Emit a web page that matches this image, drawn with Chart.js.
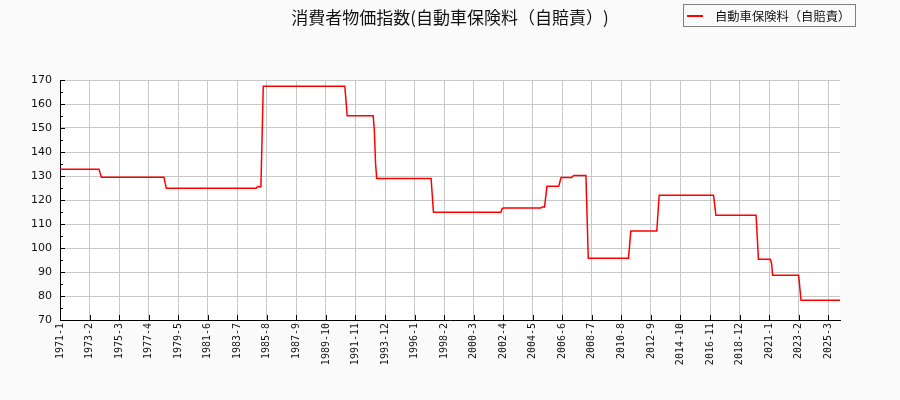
<!DOCTYPE html>
<html>
<head>
<meta charset="utf-8">
<script src="https://cdn.jsdelivr.net/npm/chart.js@4/dist/chart.umd.min.js"></script>
<style>
  html, body { margin: 0; padding: 0; background: #fafafa; }
  #wrap { width: 900px; height: 400px; }
</style>
</head>
<body>
<div id="wrap"><canvas id="chart" width="900" height="400"></canvas></div>
<script>
const title = '消費者物価指数(自動車保険料（自賠責）)';
const seriesName = '自動車保険料（自賠責）';

const firstMonth = '1971-1';
const lastMonth = '2026-1';

// month where each level starts, and the level
const changeMonths = [
  '1971-1', '1973-11', '1973-12', '1978-6', '1978-7', '1984-12', '1985-4', '1985-5',
  '1991-3', '1991-4', '1993-3', '1993-4', '1993-5', '1997-4', '1997-5', '2002-3',
  '2002-4', '2005-1', '2005-4', '2005-5', '2006-4', '2006-5', '2007-3', '2007-4',
  '2008-3', '2008-4', '2011-3', '2011-4', '2013-3', '2013-4', '2017-3', '2017-4',
  '2020-3', '2020-4', '2021-3', '2021-4', '2023-3', '2023-4',
];
const levels = [
  132.8, 131.1, 129.5, 127.0, 124.9, 125.5, 146.4, 167.4,
  161.3, 155.1, 148.8, 135.3, 129.0, 122.1, 114.9, 116.3,
  116.7, 117.1, 121.3, 125.7, 127.6, 129.4, 130.0, 130.2,
  113.1, 95.7, 101.3, 107.1, 114.7, 122.0, 117.9, 113.6,
  104.5, 95.3, 93.9, 88.6, 83.5, 78.2,
];

const yMin = 70;
const yMax = 170;
const labelEvery = 25;

// monthly categories
const labels = [];
const [y0, m0] = firstMonth.split('-').map(Number);
const [y1, m1] = lastMonth.split('-').map(Number);
for (let y = y0, m = m0; y < y1 || (y === y1 && m <= m1); m++) {
  if (m > 12) { m = 1; y++; if (y > y1) break; }
  labels.push(`${y}-${m}`);
}

// hold each level until the next change
const values = [];
let lvl = 0;
labels.forEach((lab) => {
  const next = changeMonths.indexOf(lab);
  if (next >= 0) lvl = next;
  values.push(levels[lvl]);
});

const decor = {
  id: 'decor',
  beforeDraw(chart) {
    const { ctx, chartArea: a } = chart;
    ctx.save();
    ctx.fillStyle = '#ffffff';
    ctx.fillRect(a.left, a.top, a.right - a.left, a.bottom - a.top);
    ctx.restore();
  },
  afterDraw(chart) {
    const { ctx, chartArea: a, scales: { x, y } } = chart;
    ctx.save();
    ctx.strokeStyle = '#000';
    ctx.lineWidth = 1;
    ctx.beginPath();
    for (let v = yMin; v <= yMax; v += 5) {
      const py = Math.round(y.getPixelForValue(v)) + 0.5;
      ctx.moveTo(a.left, py);
      ctx.lineTo(a.left + (v % 10 ? 3 : 5), py);
    }
    x.ticks.forEach((t) => {
      const px = Math.round(x.getPixelForValue(t.value)) + 0.5;
      ctx.moveTo(px, a.bottom);
      ctx.lineTo(px, a.bottom - 5);
    });
    ctx.stroke();

    ctx.fillStyle = '#111';
    ctx.textAlign = 'center';
    ctx.textBaseline = 'middle';
    ctx.font = '17px "Noto Sans CJK JP", sans-serif';
    ctx.fillText(title, 450, 18);

    ctx.strokeStyle = '#808080';
    ctx.strokeRect(683.5, 4.5, 172, 22);
    ctx.strokeStyle = '#ff0000';
    ctx.lineWidth = 2;
    ctx.beginPath();
    ctx.moveTo(687, 16);
    ctx.lineTo(703, 16);
    ctx.stroke();
    ctx.textAlign = 'left';
    ctx.font = '12.3px "Noto Sans CJK JP", sans-serif';
    ctx.fillText(seriesName, 715, 16);
    ctx.restore();
  },
};

new Chart(document.getElementById('chart'), {
  type: 'line',
  data: {
    labels,
    datasets: [{
      label: seriesName,
      data: values,
      borderColor: '#ff0000',
      borderWidth: 1.5,
      pointRadius: 0,
      tension: 0,
      fill: false,
    }],
  },
  options: {
    responsive: false,
    animation: false,
    devicePixelRatio: 1,
    layout: { padding: { top: 80, right: 60, left: 0, bottom: 0 } },
    plugins: { legend: { display: false }, title: { display: false }, tooltip: { enabled: false } },
    scales: {
      x: {
        type: 'category',
        afterFit: (s) => { s.height = 80; },
        afterBuildTicks: (s) => { s.ticks = s.ticks.filter((t) => t.value % labelEvery === 0); },
        grid: { color: '#c8c8c8', lineWidth: 1, drawTicks: false },
        border: { display: true, color: '#000', width: 1 },
        ticks: {
          autoSkip: false,
          minRotation: 90,
          maxRotation: 90,
          padding: 3,
          color: '#111',
          font: { family: '"DejaVu Sans Mono", monospace', size: 10 },
          callback: (v) => labels[v],
        },
      },
      y: {
        min: yMin,
        max: yMax,
        afterFit: (s) => { s.width = 60; },
        grid: { color: '#c8c8c8', lineWidth: 1, drawTicks: false },
        border: { display: true, color: '#000', width: 1 },
        ticks: {
          stepSize: 10,
          padding: 8,
          color: '#111',
          font: { family: '"DejaVu Sans", sans-serif', size: 11 },
        },
      },
    },
  },
  plugins: [decor],
});
</script>
</body>
</html>
